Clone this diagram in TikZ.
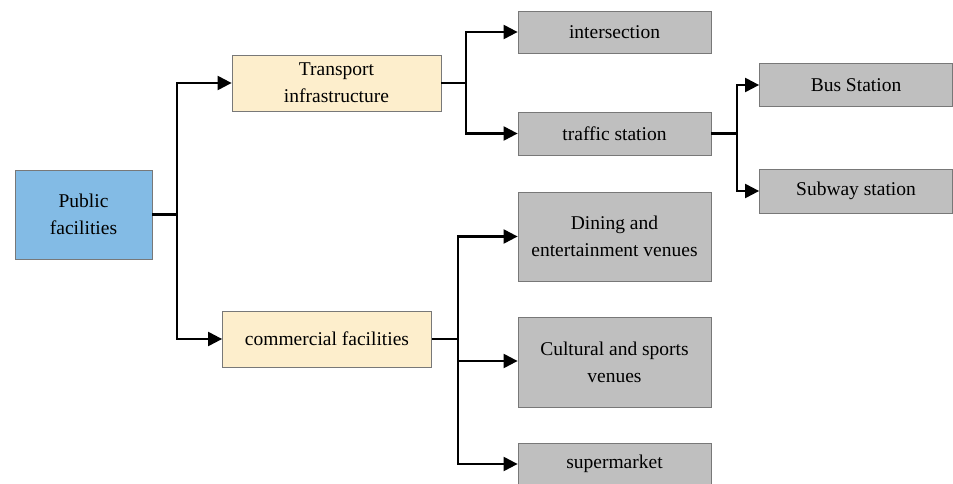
\documentclass[tikz,border=0pt]{standalone}
\usepackage{fontspec}
\setmainfont{Liberation Serif}
\usetikzlibrary{arrows.meta}
\definecolor{rootblue}{RGB}{131,187,229}
\definecolor{midbeige}{RGB}{253,238,204}
\definecolor{leafgray}{RGB}{191,191,191}
\definecolor{edgegray}{RGB}{120,120,120}
\tikzset{
  box/.style={draw=edgegray, line width=0.8pt, align=center, inner sep=0pt,
    font=\fontsize{19.5}{27}\selectfont},
  rootbox/.style={box, fill=rootblue, minimum width=137pt, minimum height=89pt},
  midbox/.style={box, fill=midbeige, minimum width=209pt, minimum height=56pt},
  leafbox/.style={box, fill=leafgray, minimum width=193pt},
  stub/.style={line width=2.2pt},
  link/.style={stub, -{Triangle[length=14pt,width=14pt]}}
}
\begin{document}
\begin{tikzpicture}[x=1pt, y=-1pt]
  \useasboundingbox (0,0) rectangle (953,484);
  % boxes
  \node [rootbox] (pub) at (83.5,214.5) {Public\\facilities};
  \node [midbox] (trans) at (336.5,83) {Transport\\infrastructure};
  \node [midbox] (comm) at (327,339) {commercial facilities};
  \node [leafbox, minimum height=42pt] (inter) at (614.5,32) {intersection};
  \node [leafbox, minimum height=43pt] (traffic) at (614.5,133.5) {traffic station};
  \node [leafbox, minimum height=43pt] (bus) at (856,85) {Bus Station};
  \node [leafbox, minimum height=44pt] (subway) at (856,191) {Subway station};
  \node [leafbox, minimum height=89pt] (dining) at (614.5,236.5) {Dining and\\entertainment venues};
  \node [leafbox, minimum height=90pt] (cult) at (614.5,362) {Cultural and sports\\venues};
  \node [leafbox, minimum height=42pt] (super) at (614.5,464) {supermarket};
  % junctions
  \coordinate (j1) at (177,214.5);
  \coordinate (j2) at (466,83);
  \coordinate (j3) at (737,133.5);
  \coordinate (j4) at (458,339);
  % connectors
  \draw [stub] (pub.east) -- (j1);
  \draw [link] (j1) |- (trans.west);
  \draw [link] (j1) |- (comm.west);
  \draw [stub] (trans.east) -- (j2);
  \draw [link] (j2) |- (inter.west);
  \draw [link] (j2) |- (traffic.west);
  \draw [stub] (traffic.east) -- (j3);
  \draw [link] (j3) |- (bus.west);
  \draw [link] (j3) |- (subway.west);
  \draw [stub] (comm.east) -- (j4);
  \draw [link] (j4) |- (dining.west);
  \draw [link] (j4) |- ([yshift=1pt]cult.west);
  \draw [link] (j4) |- (super.west);
\end{tikzpicture}
\end{document}
